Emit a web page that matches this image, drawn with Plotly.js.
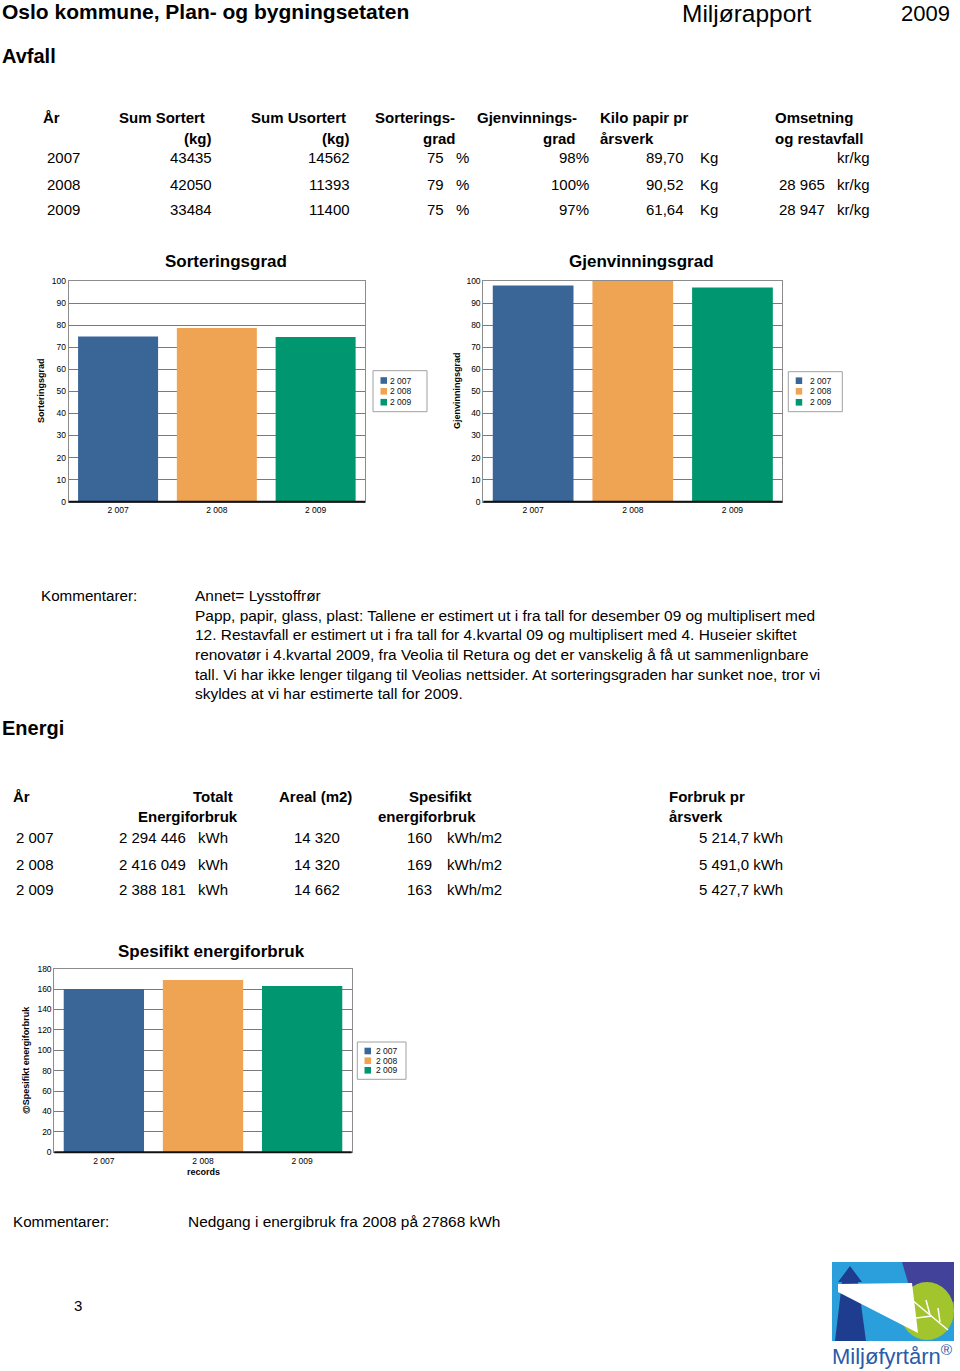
<!DOCTYPE html>
<html>
<head>
<meta charset="utf-8">
<script src="https://cdn.plot.ly/plotly-3.0.1.min.js"></script>
<style>
html,body{margin:0;padding:0;background:#fff;}
#chart{width:960px;height:1371px;}
</style>
</head>
<body>
<div id="chart"></div>
<script>
// ---------- DATA ----------
const years = ['2007', '2008', '2009'];
const yearLabels = ['2 007', '2 008', '2 009'];
const barColors = ['#3a6597', '#efa453', '#00966f'];

// Avfall table
const sumSortert = ['43435', '42050', '33484'];
const sumUsortert = ['14562', '11393', '11400'];
const sorteringsgradTxt = ['75', '79', '75'];
const gjenvinningsgradTxt = ['98%', '100%', '97%'];
const kiloPapir = ['89,70', '90,52', '61,64'];
const omsetning = ['', '28 965', '28 947'];

// Chart values
const sorteringsgrad = [74.9, 78.7, 74.6];
const gjenvinningsgrad = [98, 100, 97];
const spesifiktEnergi = [160, 169, 163];

// Energi table
const energiYears = ['2 007', '2 008', '2 009'];
const totaltEnergi = ['2 294 446', '2 416 049', '2 388 181'];
const areal = ['14 320', '14 320', '14 662'];
const spesifiktTxt = ['160', '169', '163'];
const forbrukPr = ['5 214,7 kWh', '5 491,0 kWh', '5 427,7 kWh'];

const comment1 = [
  'Annet= Lysstoffrør',
  'Papp, papir, glass, plast: Tallene er estimert ut i fra tall for desember 09 og multiplisert med',
  '12. Restavfall er estimert ut i fra tall for 4.kvartal 09 og multiplisert med 4. Huseier skiftet',
  'renovatør i 4.kvartal 2009, fra Veolia til Retura og det er vanskelig å få ut sammenlignbare',
  'tall. Vi har ikke lenger tilgang til Veolias nettsider. At sorteringsgraden har sunket noe, tror vi',
  'skyldes at vi har estimerte tall for 2009.'
];
const comment2 = 'Nedgang i energibruk fra 2008 på 27868 kWh';

// ---------- HELPERS ----------
const W = 960, H = 1371;
const px = x => x / W;
const py = y => 1 - y / H;
const SANS = 'Liberation Sans, Arial, sans-serif';
const annotations = [];
const shapes = [];
function txt(x, y, text, o) {
  o = o || {};
  annotations.push({
    xref: 'paper', yref: 'paper', x: px(x), y: py(y), text: text, showarrow: false,
    xanchor: o.anchor || 'left', yanchor: 'middle', textangle: o.angle || 0,
    borderpad: 0,
    font: {family: o.family || SANS, size: o.size || 15, color: o.color || '#000'}
  });
}

// ---------- PAGE TEXT ----------
txt(1, 11, '<b>Oslo kommune, Plan- og bygningsetaten</b>', {size: 21});
txt(681, 14, 'Miljørapport', {size: 24.5});
txt(951, 14, '2009', {size: 22, anchor: 'right'});
txt(1, 56, '<b>Avfall</b>', {size: 20});

// Avfall table headers
const hy1 = 117, hy2 = 138;
txt(42, hy1, '<b>År</b>');
txt(118, hy1, '<b>Sum Sortert</b>');
txt(213, hy2, '<b>(kg)</b>', {anchor: 'right'});
txt(250, hy1, '<b>Sum Usortert</b>');
txt(351, hy2, '<b>(kg)</b>', {anchor: 'right'});
txt(374, hy1, '<b>Sorterings-</b>');
txt(422, hy2, '<b>grad</b>');
txt(476, hy1, '<b>Gjenvinnings-</b>');
txt(577, hy2, '<b>grad</b>', {anchor: 'right'});
txt(599, hy1, '<b>Kilo papir pr</b>');
txt(599, hy2, '<b>årsverk</b>');
txt(774, hy1, '<b>Omsetning</b>');
txt(774, hy2, '<b>og restavfall</b>');

const rowY = [158, 184, 209];
years.forEach((yr, i) => {
  const y = rowY[i];
  txt(46, y, yr);
  txt(213, y, sumSortert[i], {anchor: 'right'});
  txt(351, y, sumUsortert[i], {anchor: 'right'});
  txt(445, y, sorteringsgradTxt[i], {anchor: 'right'});
  txt(455, y, '%');
  txt(590, y, gjenvinningsgradTxt[i], {anchor: 'right'});
  txt(685, y, kiloPapir[i], {anchor: 'right'});
  txt(699, y, 'Kg');
  if (omsetning[i]) txt(826, y, omsetning[i], {anchor: 'right'});
  txt(836, y, 'kr/kg');
});

// Comments 1
txt(40, 595, 'Kommentarer:', {size: 15.2});
const cY = [595, 615, 634, 654, 674, 693];
comment1.forEach((l, i) => txt(194, cY[i], l, {size: 15.45}));

txt(1, 728, '<b>Energi</b>', {size: 20});

// Energi table
const ey1 = 796, ey2 = 816;
txt(12, ey1, '<b>År</b>');
txt(234, ey1, '<b>Totalt</b>', {anchor: 'right'});
txt(239, ey2, '<b>Energiforbruk</b>', {anchor: 'right'});
txt(278, ey1, '<b>Areal (m2)</b>');
txt(408, ey1, '<b>Spesifikt</b>');
txt(377, ey2, '<b>energiforbruk</b>');
txt(668, ey1, '<b>Forbruk pr</b>');
txt(668, ey2, '<b>årsverk</b>');
const eRowY = [838, 864, 889];
energiYears.forEach((yr, i) => {
  const y = eRowY[i];
  txt(15, y, yr);
  txt(187, y, totaltEnergi[i], {anchor: 'right'});
  txt(197, y, 'kWh');
  txt(341, y, areal[i], {anchor: 'right'});
  txt(433, y, spesifiktTxt[i], {anchor: 'right'});
  txt(446, y, 'kWh/m2');
  txt(784, y, forbrukPr[i], {anchor: 'right'});
});

// Comments 2
txt(12, 1221, 'Kommentarer:', {size: 15.2});
txt(187, 1221, comment2, {size: 15.45});
txt(73, 1305, '3');

// ---------- CHARTS ----------
const charts = [
  {xa: 'x', ya: 'y', vals: sorteringsgrad, x0: 68.7, x1: 365, y0: 281, y1: 501.7, range: [0, 100], dtick: 10,
   title: 'Sorteringsgrad', tx: 226, ty: 262, ytitle: 'Sorteringsgrad', ytx: 41, yty: 391,
   leg: {x0: 373, x1: 427, y0: 370.7, y1: 411.7, sx: 380.5, tx: 389, rows: [380.5, 391.3, 402.2]}},
  {xa: 'x2', ya: 'y2', vals: gjenvinningsgrad, x0: 483.3, x1: 782.3, y0: 281, y1: 501.7, range: [0, 100], dtick: 10,
   title: 'Gjenvinningsgrad', tx: 641, ty: 262, ytitle: 'Gjenvinningsgrad', ytx: 457, yty: 391,
   leg: {x0: 788.3, x1: 842.3, y0: 371.7, y1: 411.7, sx: 795.7, tx: 809, rows: [380.7, 391.3, 402.3]}},
  {xa: 'x3', ya: 'y3', vals: spesifiktEnergi, x0: 54.3, x1: 351.7, y0: 968.7, y1: 1152.3, range: [0, 180], dtick: 20,
   title: 'Spesifikt energiforbruk', tx: 211, ty: 951, ytitle: '@Spesifikt energiforbruk', ytx: 26, yty: 1060,
   leg: {x0: 357.3, x1: 406, y0: 1042, y1: 1079.3, sx: 364.5, tx: 375, rows: [1051, 1060.7, 1070.3]},
   xtitle: 'records', xtx: 203, xty: 1172}
];

const traces = [];
const layout = {
  width: W, height: H, margin: {l: 0, r: 0, t: 0, b: 0},
  paper_bgcolor: '#fff', plot_bgcolor: '#fff',
  barmode: 'overlay', bargap: 0.19, showlegend: false,
  font: {family: SANS, size: 8, color: '#000'},
  annotations: annotations, shapes: shapes
};

charts.forEach((c, k) => {
  years.forEach((yr, i) => {
    traces.push({
      type: 'bar', x: [yearLabels[i]], y: [c.vals[i]], name: yearLabels[i],
      xaxis: c.xa, yaxis: c.ya, marker: {color: barColors[i], line: {width: 0}},
      hoverinfo: 'x+y'
    });
  });
  const xk = k === 0 ? 'xaxis' : 'xaxis' + (k + 1);
  const yk = k === 0 ? 'yaxis' : 'yaxis' + (k + 1);
  layout[xk] = {
    domain: [px(c.x0), px(c.x1)], anchor: c.ya, type: 'category',
    categoryarray: yearLabels, categoryorder: 'array',
    showline: true, mirror: true, linecolor: '#8c8c8c', linewidth: 1,
    showgrid: false, ticks: '', tickfont: {size: 8.5, family: SANS, color: '#000'}, fixedrange: true
  };
  layout[yk] = {
    domain: [py(c.y1), py(c.y0)], anchor: c.xa, range: c.range, dtick: c.dtick,
    showline: true, mirror: true, linecolor: '#8c8c8c', linewidth: 1,
    showgrid: true, gridcolor: '#7a7a7a', gridwidth: 1, zeroline: false,
    ticks: '', tickfont: {size: 8.5, family: SANS, color: '#000'}, fixedrange: true
  };
  shapes.push({type: 'line', xref: c.xa + ' domain', yref: c.ya + ' domain', x0: 0, x1: 1, y0: 0, y1: 0,
    line: {color: '#111', width: 2}, layer: 'above'});
  txt(c.tx, c.ty, '<b>' + c.title + '</b>', {size: 17, anchor: 'center'});
  txt(c.ytx, c.yty, '<b>' + c.ytitle + '</b>', {size: 9, anchor: 'center', angle: -90});
  if (c.xtitle) txt(c.xtx, c.xty, '<b>' + c.xtitle + '</b>', {size: 9, anchor: 'center'});
  const L = c.leg;
  shapes.push({type: 'rect', xref: 'paper', yref: 'paper', x0: px(L.x0), x1: px(L.x1), y0: py(L.y1), y1: py(L.y0),
    line: {color: '#a0a0a0', width: 1}, fillcolor: '#fff'});
  yearLabels.forEach((lab, i) => {
    const cy = L.rows[i];
    shapes.push({type: 'rect', xref: 'paper', yref: 'paper', x0: px(L.sx), x1: px(L.sx + 6.5),
      y0: py(cy + 3.3), y1: py(cy - 3.3), line: {width: 0}, fillcolor: barColors[i]});
    txt(L.tx, cy, lab, {size: 8.5, color: '#111'});
  });
});

// ---------- LOGO (Miljøfyrtårn) ----------
function pathOf(pts) {
  return 'M' + pts.map(p => px(p[0]) + ',' + py(p[1])).join(' L') + ' Z';
}
shapes.push({type: 'rect', xref: 'paper', yref: 'paper', x0: px(832), x1: px(954), y0: py(1341), y1: py(1262),
  fillcolor: '#2a9fdc', line: {width: 0}});
shapes.push({type: 'path', xref: 'paper', yref: 'paper', path: pathOf([[902,1262],[954,1262],[954,1302],[912,1296]]),
  fillcolor: '#43429a', line: {width: 0}});
shapes.push({type: 'circle', xref: 'paper', yref: 'paper', x0: px(900), x1: px(954), y0: py(1340), y1: py(1282),
  fillcolor: '#a2c42c', line: {width: 0}});
shapes.push({type: 'path', xref: 'paper', yref: 'paper',
  path: pathOf([[835,1341],[866,1341],[858,1282],[862,1282],[850,1266],[838,1282],[842,1282]]),
  fillcolor: '#1e3d8f', line: {width: 0}});
shapes.push({type: 'path', xref: 'paper', yref: 'paper',
  path: pathOf([[838,1284],[912,1283],[918,1333],[838,1292]]),
  fillcolor: '#ffffff', line: {width: 0}});
shapes.push({type: 'path', xref: 'paper', yref: 'paper',
  path: 'M' + px(912) + ',' + py(1300) + ' L' + px(948) + ',' + py(1330) +
        ' M' + px(926) + ',' + py(1300) + ' L' + px(930) + ',' + py(1315) +
        ' M' + px(938) + ',' + py(1308) + ' L' + px(940) + ',' + py(1322) +
        ' M' + px(916) + ',' + py(1318) + ' L' + px(932) + ',' + py(1316),
  line: {color: '#ffffff', width: 1.5}});
txt(831, 1355, 'Miljøfyrtårn<sup>®</sup>', {size: 22, color: '#2a5ba8'});

Plotly.newPlot('chart', traces, layout, {displayModeBar: false, responsive: false});
</script>
</body>
</html>
